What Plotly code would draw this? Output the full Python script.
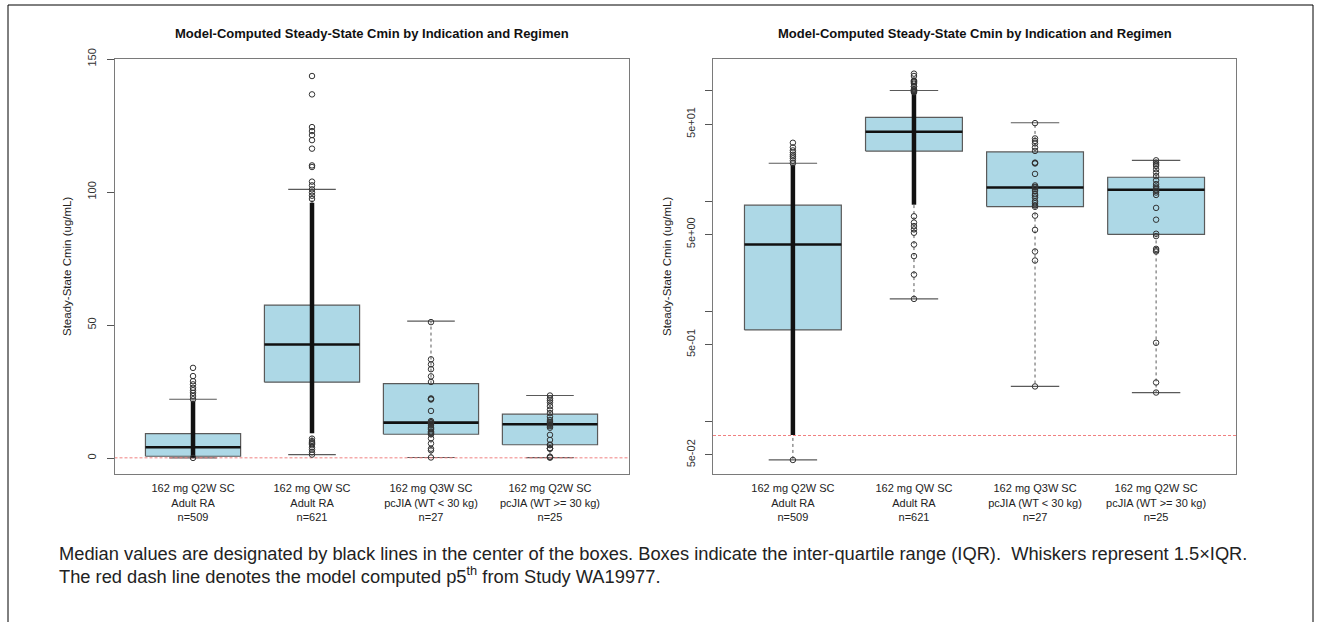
import plotly.graph_objects as go

# Regimen groups (x positions 1..4)
categories = [
    "162 mg Q2W SC<br>Adult RA<br>n=509",
    "162 mg QW SC<br>Adult RA<br>n=621",
    "162 mg Q3W SC<br>pcJIA (WT &lt; 30 kg)<br>n=27",
    "162 mg Q2W SC<br>pcJIA (WT &gt;= 30 kg)<br>n=25",
]

# Box statistics (ug/mL)
q1 = [0.68, 28.5, 8.95, 5.0]
median = [4.05, 42.7, 13.3, 12.7]
q3 = [9.2, 57.5, 28.0, 16.5]
whisker_lo = [0.045, 1.30, 0.209, 0.184]
whisker_hi = [22.1, 101.0, 51.5, 23.5]

# Individual Cmin values that stand apart from the dense core
g1_points = [33.9, 30.8, 28.9, 27.7, 26.4, 25.5, 24.5, 23.3, 22.1, 0.045]
g2_points = [143.6, 136.7, 124.4, 122.9, 121.4, 119.5, 116.3, 110.0, 109.4,
             103.9, 102.5, 101.0, 99.8, 98.6, 97.4,
             7.3, 6.4, 5.95, 5.55, 5.18, 4.05, 3.18, 2.16, 1.30]
g3_points = [51.1, 37.1, 35.2, 33.4, 30.7, 28.6, 22.4, 22.2, 22.0, 17.7,
             13.9, 13.5, 13.3, 12.9, 12.4, 11.6, 11.2, 10.8, 10.0, 9.6,
             9.2, 8.9, 7.4, 5.5, 3.5, 2.9, 0.209]
g4_points = [23.5, 22.4, 21.7, 20.9, 19.5, 18.2, 16.9, 15.5, 14.3, 13.6,
             13.2, 12.8, 12.4, 12.0, 11.4, 8.7, 6.8, 5.07, 4.83, 3.7,
             3.6, 3.5, 0.52, 0.227, 0.184]
group_points = [g1_points, g2_points, g3_points, g4_points]

# Ranges where the large groups' points overlap into a solid column
dense_lo = [0.076, 9.3, None, None]
dense_hi = [21.5, 96.0, None, None]

# Model-computed p5 from Study WA19977
p5_value = 0.075

# Axis ticks
lin_tickvals = [0, 50, 100, 150]
log_tickvals = [0.05, 0.5, 5, 50]
log_ticktext = ["5e-02", "5e-01", "5e+00", "5e+01"]
log_minor_tickvals = [0.1, 1, 10, 100]

FONT = "Liberation Sans, Arial, Helvetica, sans-serif"
BOX_FILL = "#add8e6"
BOX_LINE = "#5a5a5a"
HALF = 0.4

fig = go.Figure()


def add_panel(fig, xa, ya):
    n = len(categories)
    xs = list(range(1, n + 1))
    # boxes
    bx, by = [], []
    for i in range(n):
        x = xs[i]
        bx += [x - HALF, x + HALF, x + HALF, x - HALF, x - HALF, None]
        by += [q1[i], q1[i], q3[i], q3[i], q1[i], None]
    fig.add_trace(go.Scatter(x=bx, y=by, mode="lines", fill="toself",
                             fillcolor=BOX_FILL,
                             line=dict(color=BOX_LINE, width=1.2),
                             xaxis=xa, yaxis=ya, hoverinfo="skip"))
    # dashed whiskers
    wx, wy = [], []
    for i in range(n):
        x = xs[i]
        wx += [x, x, None, x, x, None]
        wy += [q3[i], whisker_hi[i], None, q1[i], whisker_lo[i], None]
    fig.add_trace(go.Scatter(x=wx, y=wy, mode="lines",
                             line=dict(color=BOX_LINE, width=1, dash="3px,3px"),
                             xaxis=xa, yaxis=ya, hoverinfo="skip"))
    # whisker caps
    cx, cy = [], []
    for i in range(n):
        x = xs[i]
        cx += [x - HALF / 2, x + HALF / 2, None, x - HALF / 2, x + HALF / 2, None]
        cy += [whisker_hi[i], whisker_hi[i], None, whisker_lo[i], whisker_lo[i], None]
    fig.add_trace(go.Scatter(x=cx, y=cy, mode="lines",
                             line=dict(color=BOX_LINE, width=1.2),
                             xaxis=xa, yaxis=ya, hoverinfo="skip"))
    # medians
    mx, my = [], []
    for i in range(n):
        x = xs[i]
        mx += [x - HALF, x + HALF, None]
        my += [median[i], median[i], None]
    fig.add_trace(go.Scatter(x=mx, y=my, mode="lines",
                             line=dict(color="#111111", width=2.6),
                             xaxis=xa, yaxis=ya, hoverinfo="skip"))
    # p5 reference line
    fig.add_trace(go.Scatter(x=[0.34, n + 0.66], y=[p5_value, p5_value], mode="lines",
                             line=dict(color="#f08080", width=1, dash="3px,2px"),
                             xaxis=xa, yaxis=ya, hoverinfo="skip"))
    # dense point columns
    dx, dy = [], []
    for i in range(n):
        if dense_lo[i] is not None:
            dx += [xs[i], xs[i], None]
            dy += [dense_lo[i], dense_hi[i], None]
    fig.add_trace(go.Scatter(x=dx, y=dy, mode="lines",
                             line=dict(color="#111111", width=4.5),
                             xaxis=xa, yaxis=ya, hoverinfo="skip"))
    # individual points
    px, py = [], []
    for i in range(n):
        px += [xs[i]] * len(group_points[i])
        py += group_points[i]
    fig.add_trace(go.Scatter(x=px, y=py, mode="markers",
                             marker=dict(symbol="circle-open", size=5.5,
                                         color="#333333", line=dict(width=1)),
                             xaxis=xa, yaxis=ya, hoverinfo="skip"))


add_panel(fig, "x", "y")
add_panel(fig, "x2", "y2")

axis_common = dict(showgrid=False, zeroline=False, showline=True, mirror=True,
                   linecolor="#7a7a7a", linewidth=1, automargin=False)
xaxis_common = dict(axis_common, range=[0.34, 4.66], tickvals=[1, 2, 3, 4],
                    ticktext=categories, ticks="", ticklabelstandoff=4,
                    tickfont=dict(family=FONT, size=11, color="#222222"))
yaxis_common = dict(axis_common, ticks="outside", ticklen=7, tickcolor="#555555",
                    tickangle=-90, ticklabelstandoff=6,
                    tickfont=dict(family=FONT, size=11, color="#333333"))

fig.update_layout(
    width=1322, height=622,
    margin=dict(l=0, r=0, t=0, b=0),
    paper_bgcolor="white", plot_bgcolor="white",
    showlegend=False,
    xaxis=dict(xaxis_common, domain=[114.5 / 1322, 628.5 / 1322], anchor="y"),
    yaxis=dict(yaxis_common, domain=[1 - 474 / 622, 1 - 59 / 622], anchor="x",
               range=[-6, 150], tickvals=lin_tickvals),
    xaxis2=dict(xaxis_common, domain=[713 / 1322, 1236 / 1322], anchor="y2"),
    yaxis2=dict(yaxis_common, domain=[1 - 474 / 622, 1 - 59 / 622], anchor="x2",
                type="log", range=[-1.474, 2.290],
                tickvals=log_tickvals, ticktext=log_ticktext,
                minor=dict(tickvals=log_minor_tickvals, ticks="outside",
                           ticklen=7, tickcolor="#555555")),
)

title_text = "<b>Model-Computed Steady-State Cmin by Indication and Regimen</b>"
ytitle = "Steady-State Cmin (ug/mL)"
annotations = [
    dict(text=title_text, x=371.5 / 1322, y=1 - 33 / 622),
    dict(text=title_text, x=974.5 / 1322, y=1 - 33 / 622),
    dict(text=ytitle, x=67 / 1322, y=1 - 266 / 622, textangle=-90,
         font=dict(family=FONT, size=11.5, color="#222222")),
    dict(text=ytitle, x=667 / 1322, y=1 - 266 / 622, textangle=-90,
         font=dict(family=FONT, size=11.5, color="#222222")),
    dict(text="Median values are designated by black lines in the center of the boxes. "
              "Boxes indicate the inter-quartile range (IQR).\u00a0 Whiskers represent 1.5\u00d7IQR.",
         x=57 / 1322, y=1 - 553 / 622, xanchor="left",
         font=dict(family=FONT, size=18.3, color="#222222")),
    dict(text="The red dash line denotes the model computed p5<sup>th</sup> from Study WA19977.",
         x=57 / 1322, y=1 - 575 / 622, xanchor="left",
         font=dict(family=FONT, size=18.3, color="#222222")),
]
for a in annotations:
    a.setdefault("font", dict(family=FONT, size=13, color="#111111"))
    a.update(xref="paper", yref="paper", showarrow=False)
    a.setdefault("xanchor", "center")
    a["yanchor"] = "middle"
fig.update_layout(annotations=annotations)

# page frame
fig.update_layout(shapes=[
    dict(type="line", xref="paper", yref="paper", x0=8 / 1322, x1=8 / 1322,
         y0=0, y1=1 - 5 / 622, line=dict(color="#000000", width=1)),
    dict(type="line", xref="paper", yref="paper", x0=1313 / 1322, x1=1313 / 1322,
         y0=0, y1=1 - 5 / 622, line=dict(color="#000000", width=1)),
    dict(type="line", xref="paper", yref="paper", x0=8 / 1322, x1=1313 / 1322,
         y0=1 - 5 / 622, y1=1 - 5 / 622, line=dict(color="#000000", width=1)),
])

fig.write_html("out.html")
